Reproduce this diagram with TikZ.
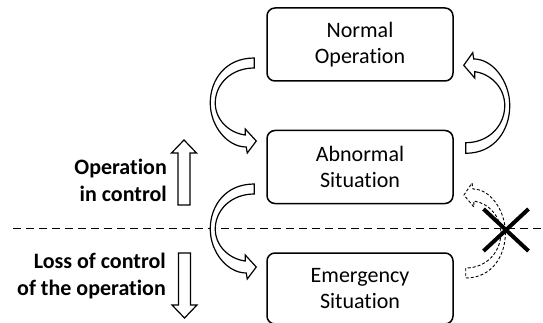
\documentclass[tikz,border=0pt]{standalone}
\usepackage{fontspec}
\setmainfont{Carlito}[Ligatures=NoCommon]
\usetikzlibrary{
  positioning,
  calc,
  shapes.misc
}
\tikzset{
  statebox/.style={draw, rounded corners=8pt, line width=1.5pt,
    minimum width=186pt, minimum height=73pt,
    align=center, font=\fontsize{22}{26.5}\selectfont},
  sidelabel/.style={align=right, inner sep=0pt,
    font=\fontsize{22}{27}\selectfont\bfseries},
  fatarr/.style={draw, fill=white, line width=1.2pt},
  divider/.style={line width=1.4pt, dash pattern=on 8pt off 5pt},
  pics/bendarrow/.style={code={
    \draw[pic actions] (0,5) .. controls (-29,5) and (-44,-17) .. (-44,-40)
      .. controls (-44,-63) and (-27,-84) .. (-8,-84)
      -- (-7,-90) -- (2,-78) -- (-9,-66) -- (-9,-72)
      .. controls (-25,-70) and (-39,-57) .. (-39,-40)
      .. controls (-39,-21) and (-23,-5) .. (0,-5) -- cycle;
  }},
  pics/straightarrow/.style={code={
    \draw[pic actions] (-6,0) -- (-6,52) -- (-12.5,52) -- (0,65)
      -- (12.5,52) -- (6,52) -- (6,0) -- cycle;
  }},
}

\begin{document}
\begin{tikzpicture}[x=1pt, y=1pt, node distance=48pt]
  \useasboundingbox (0,0) rectangle (543,-323);

  % States
  \node[statebox] (normal) at (360,-44.5) {Normal\\Operation};
  \node[statebox, below=of normal] (abnormal) {Abnormal\\Situation};
  \node[statebox, below=of abnormal, minimum height=71pt] (emergency)
    {Emergency\\Situation};

  % Control limit
  \coordinate (divL) at (13,-228.5);
  \coordinate (divR) at (543,-228.5);
  \draw[divider] (divL) -- (divR);

  % Side labels
  \node[sidelabel, anchor=east] (inctrl) at (167,-180)
    {Operation\\in control};
  \node[sidelabel, anchor=east] (lossctrl) at (166,-276)
    {Loss of control\\of the operation};
  \pic[fatarr] at (184,-205) {straightarrow};
  \pic[fatarr, rotate=180] at (184.5,-253) {straightarrow};

  % Transitions
  \pic[fatarr] at ($(normal.west)+(-12,-18.5)$) {bendarrow};
  \pic[fatarr, rotate=180, yscale=1.06] at ($(abnormal.east)+(12,19)$)
    {bendarrow};
  \pic[fatarr] at ($(abnormal.west)+(-12,-22)$) {bendarrow};
  \pic[fatarr, line width=0.9pt, dash pattern=on 3pt off 2pt,
       rotate=180, xscale=0.9] at ($(emergency.east)+(12,15.5)$)
    {bendarrow};

  % Blocked return
  \node[draw, cross out, line width=4pt, minimum width=41pt,
        minimum height=38pt, inner sep=0pt] (blocked) at (506,-230) {};
\end{tikzpicture}
\end{document}
